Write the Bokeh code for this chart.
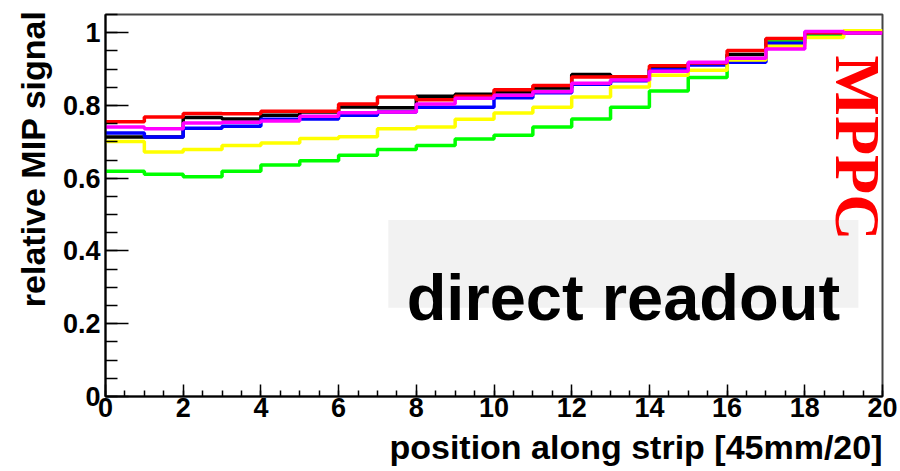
import math
from bokeh.plotting import figure
from bokeh.models import (SingleIntervalTicker, CustomJSTickFormatter, Label,
                          BoxAnnotation, Range1d, Title)
from bokeh.embed import file_html
from bokeh.resources import INLINE

# ---- data (relative MIP signal per strip position bin) ----
bin_edges = list(range(0, 21))
black = [0.713, 0.713, 0.767, 0.763, 0.773, 0.782, 0.796, 0.794, 0.825, 0.831,
         0.837, 0.848, 0.885, 0.879, 0.901, 0.915, 0.940, 0.982, 1.000, 1.000]
green = [0.619, 0.611, 0.604, 0.619, 0.636, 0.648, 0.663, 0.679, 0.690, 0.708,
         0.718, 0.741, 0.763, 0.795, 0.840, 0.877, 0.925, 0.978, 0.993, 1.000]
blue = [0.724, 0.713, 0.737, 0.743, 0.762, 0.763, 0.773, 0.782, 0.795, 0.795,
        0.821, 0.835, 0.858, 0.868, 0.898, 0.911, 0.919, 0.971, 1.000, 1.000]
yellow = [0.701, 0.672, 0.679, 0.690, 0.697, 0.709, 0.714, 0.736, 0.741, 0.762,
          0.779, 0.795, 0.823, 0.851, 0.883, 0.897, 0.925, 0.963, 0.987, 1.005]
red = [0.755, 0.768, 0.778, 0.777, 0.784, 0.784, 0.804, 0.823, 0.816, 0.825,
       0.843, 0.855, 0.878, 0.879, 0.909, 0.917, 0.951, 0.984, 1.000, 1.000]
magenta = [0.741, 0.736, 0.752, 0.754, 0.757, 0.770, 0.780, 0.782, 0.804, 0.820,
           0.828, 0.838, 0.861, 0.870, 0.894, 0.919, 0.930, 0.955, 1.003, 0.999]

series = [("#000000", black), ("#00ff00", green), ("#0000ff", blue),
          ("#ffff00", yellow), ("#ff0000", red), ("#ff00ff", magenta)]

x_title = "position along strip [45mm/20]"
y_title = "relative MIP signal"
box_text = "direct readout"
side_text = "MPPC"

FONT = "Liberation Sans"

p = figure(width=900, height=471, output_backend="svg", toolbar_location=None,
           x_range=Range1d(0, 20), y_range=Range1d(0, 1.05),
           min_border_left=105, min_border_right=18, min_border_top=14,
           min_border_bottom=74)
p.background_fill_color = "white"
p.border_fill_color = "white"
p.outline_line_color = "#444444"
p.outline_line_width = 2
p.xgrid.visible = False
p.ygrid.visible = False

# axes
p.xaxis.ticker = SingleIntervalTicker(interval=2, num_minor_ticks=4)
p.yaxis.ticker = SingleIntervalTicker(interval=0.2, num_minor_ticks=4)
p.yaxis.formatter = CustomJSTickFormatter(code="return String(Math.round(tick*10)/10);")
p.xaxis.formatter = CustomJSTickFormatter(code="return String(Math.round(tick));")
for ax in (p.xaxis[0], p.yaxis[0]):
    ax.axis_line_color = "black"
    ax.axis_line_width = 2
    ax.major_tick_line_color = "black"
    ax.minor_tick_line_color = "black"
    ax.major_tick_line_width = 1.5
    ax.minor_tick_line_width = 1.5
    ax.major_tick_out = 0
    ax.minor_tick_out = 0
    ax.major_label_text_font = FONT
    ax.major_label_text_font_style = "bold"
    ax.major_label_text_font_size = "27px"
    ax.major_label_text_color = "black"
p.xaxis.major_tick_in = 12
p.xaxis.minor_tick_in = 6
p.yaxis.major_tick_in = 23
p.yaxis.minor_tick_in = 12
p.xaxis.major_label_standoff = 1
p.yaxis.major_label_standoff = 5

# axis titles (right/top aligned, as in the reference)
p.add_layout(Title(text=x_title, align="right", text_font=FONT,
                   text_font_style="bold", text_font_size="34px",
                   text_color="black", standoff=12, offset=0), "below")
p.add_layout(Title(text=y_title, align="right", text_font=FONT,
                   text_font_style="bold", text_font_size="34px",
                   text_color="black", standoff=16, offset=-4), "left")

# gray text box
p.add_layout(BoxAnnotation(left=7.28, right=19.38, bottom=0.244, top=0.485,
                           fill_color="#f2f2f2", fill_alpha=1.0,
                           line_color=None, level="underlay"))

# histogram step lines
for color, vals in series:
    p.step(x=bin_edges, y=vals + [vals[-1]], mode="after",
           line_color=color, line_width=3.5)

# texts
p.add_layout(Label(x=13.33, y=0.272, text=box_text, text_align="center",
                   text_baseline="alphabetic", text_font=FONT,
                   text_font_style="bold", text_font_size="65px",
                   text_color="black"))
p.add_layout(Label(x=19.35, y=0.937, text=side_text, angle=-math.pi / 2,
                   text_align="left", text_baseline="middle",
                   text_font="Liberation Serif", text_font_style="bold",
                   text_font_size="64px", text_color="#ff0000"))

open("out.html", "w").write(file_html(p, INLINE))
